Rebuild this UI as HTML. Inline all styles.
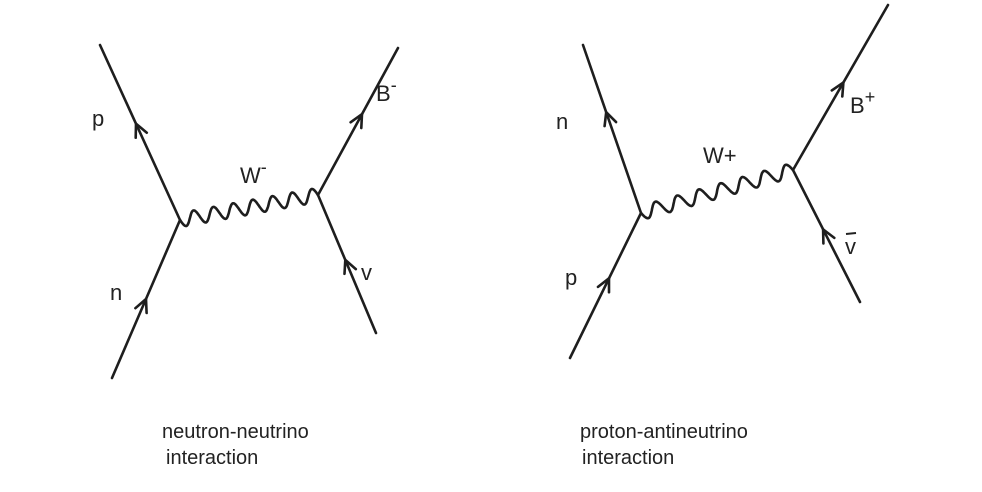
<!DOCTYPE html>
<html><head><meta charset="utf-8"><style>
html,body{margin:0;padding:0;background:#fff;}
svg{display:block}
text{font-family:"Liberation Sans",sans-serif;fill:#222;}
</style></head><body>
<svg id="s" width="982" height="492" viewBox="0 0 982 492">
<g stroke="#1e1e1e" stroke-width="2.6" fill="none" stroke-linecap="round">
  <line x1="100" y1="45" x2="180" y2="220"/>
  <line x1="112" y1="378" x2="180" y2="220"/>
  <line x1="318" y1="195" x2="398" y2="48"/>
  <line x1="318" y1="195" x2="376" y2="333"/>
  <path id="w1"/>
  <path id="a1"/>
  <path id="a2"/>
  <path id="a3"/>
  <path id="a4"/>
</g>
<g stroke="#1e1e1e" stroke-width="2.6" fill="none" stroke-linecap="round">
  <line x1="583" y1="45" x2="641" y2="213"/>
  <line x1="570" y1="358" x2="641" y2="213"/>
  <line x1="793" y1="170" x2="888" y2="5"/>
  <line x1="793" y1="170" x2="860" y2="302"/>
  <path id="w2"/>
  <path id="a5"/>
  <path id="a6"/>
  <path id="a7"/>
  <path id="a8"/>
</g>
<g font-size="22">
  <text x="92" y="126">p</text>
  <text x="110" y="300">n</text>
  <text x="240" y="183">W<tspan dy="-10" font-size="18">-</tspan></text>
  <text x="376" y="101">B<tspan dy="-10" font-size="18">-</tspan></text>
  <text x="361" y="280">v</text>
  <text x="556" y="129">n</text>
  <text x="565" y="285">p</text>
  <text x="703" y="163">W+</text>
  <text x="850" y="113">B<tspan dy="-10" font-size="18">+</tspan></text>
  <text x="845" y="254">v</text>
  <line x1="846" y1="234" x2="856" y2="233" stroke="#222" stroke-width="2"/>
  <text x="162" y="438" font-size="20">neutron-neutrino</text>
  <text x="166" y="464" font-size="20">interaction</text>
  <text x="580" y="438" font-size="20">proton-antineutrino</text>
  <text x="582" y="464" font-size="20">interaction</text>
</g>
</svg>
<script>
function wave(x1,y1,x2,y2,n,a){
  var dx=x2-x1,dy=y2-y1,L=Math.hypot(dx,dy),ux=dx/L,uy=dy/L,nx=-uy,ny=ux,d="";
  for(var i=0;i<=200;i++){var t=i/200,s=Math.sin(t*n*2*Math.PI)*a*(i==0||i==200?0:1);
    var x=x1+dx*t+nx*s,y=y1+dy*t+ny*s;d+=(i?"L":"M")+x.toFixed(1)+","+y.toFixed(1);}
  return d;}
// arrow: line from (x1,y1) to (x2,y2) = direction, tip at fraction t
function arrow(id,x1,y1,x2,y2,t){
  var dx=x2-x1,dy=y2-y1,L=Math.hypot(dx,dy),ux=dx/L,uy=dy/L;
  var tx=x1+dx*t,ty=y1+dy*t,len=14,ang=0.45;
  function arm(s){var c=Math.cos(s*ang),sn=Math.sin(s*ang);
    var bx=-(ux*c-uy*sn),by=-(ux*sn+uy*c);return (tx+bx*len).toFixed(1)+","+(ty+by*len).toFixed(1);}
  document.getElementById(id).setAttribute('d',"M"+arm(1)+"L"+tx.toFixed(1)+","+ty.toFixed(1)+"L"+arm(-1));
}
document.getElementById('w1').setAttribute('d',wave(180,220,318,195,7,7));
document.getElementById('w2').setAttribute('d',wave(641,213,793,170,7,7));
arrow('a1',180,220,100,45,0.55);
arrow('a2',112,378,180,220,0.5);
arrow('a3',318,195,398,48,0.55);
arrow('a4',376,333,318,195,0.53);
arrow('a5',641,213,583,45,0.6);
arrow('a6',570,358,641,213,0.55);
arrow('a7',793,170,888,5,0.53);
arrow('a8',860,302,793,170,0.55);
</script>
</body></html>
